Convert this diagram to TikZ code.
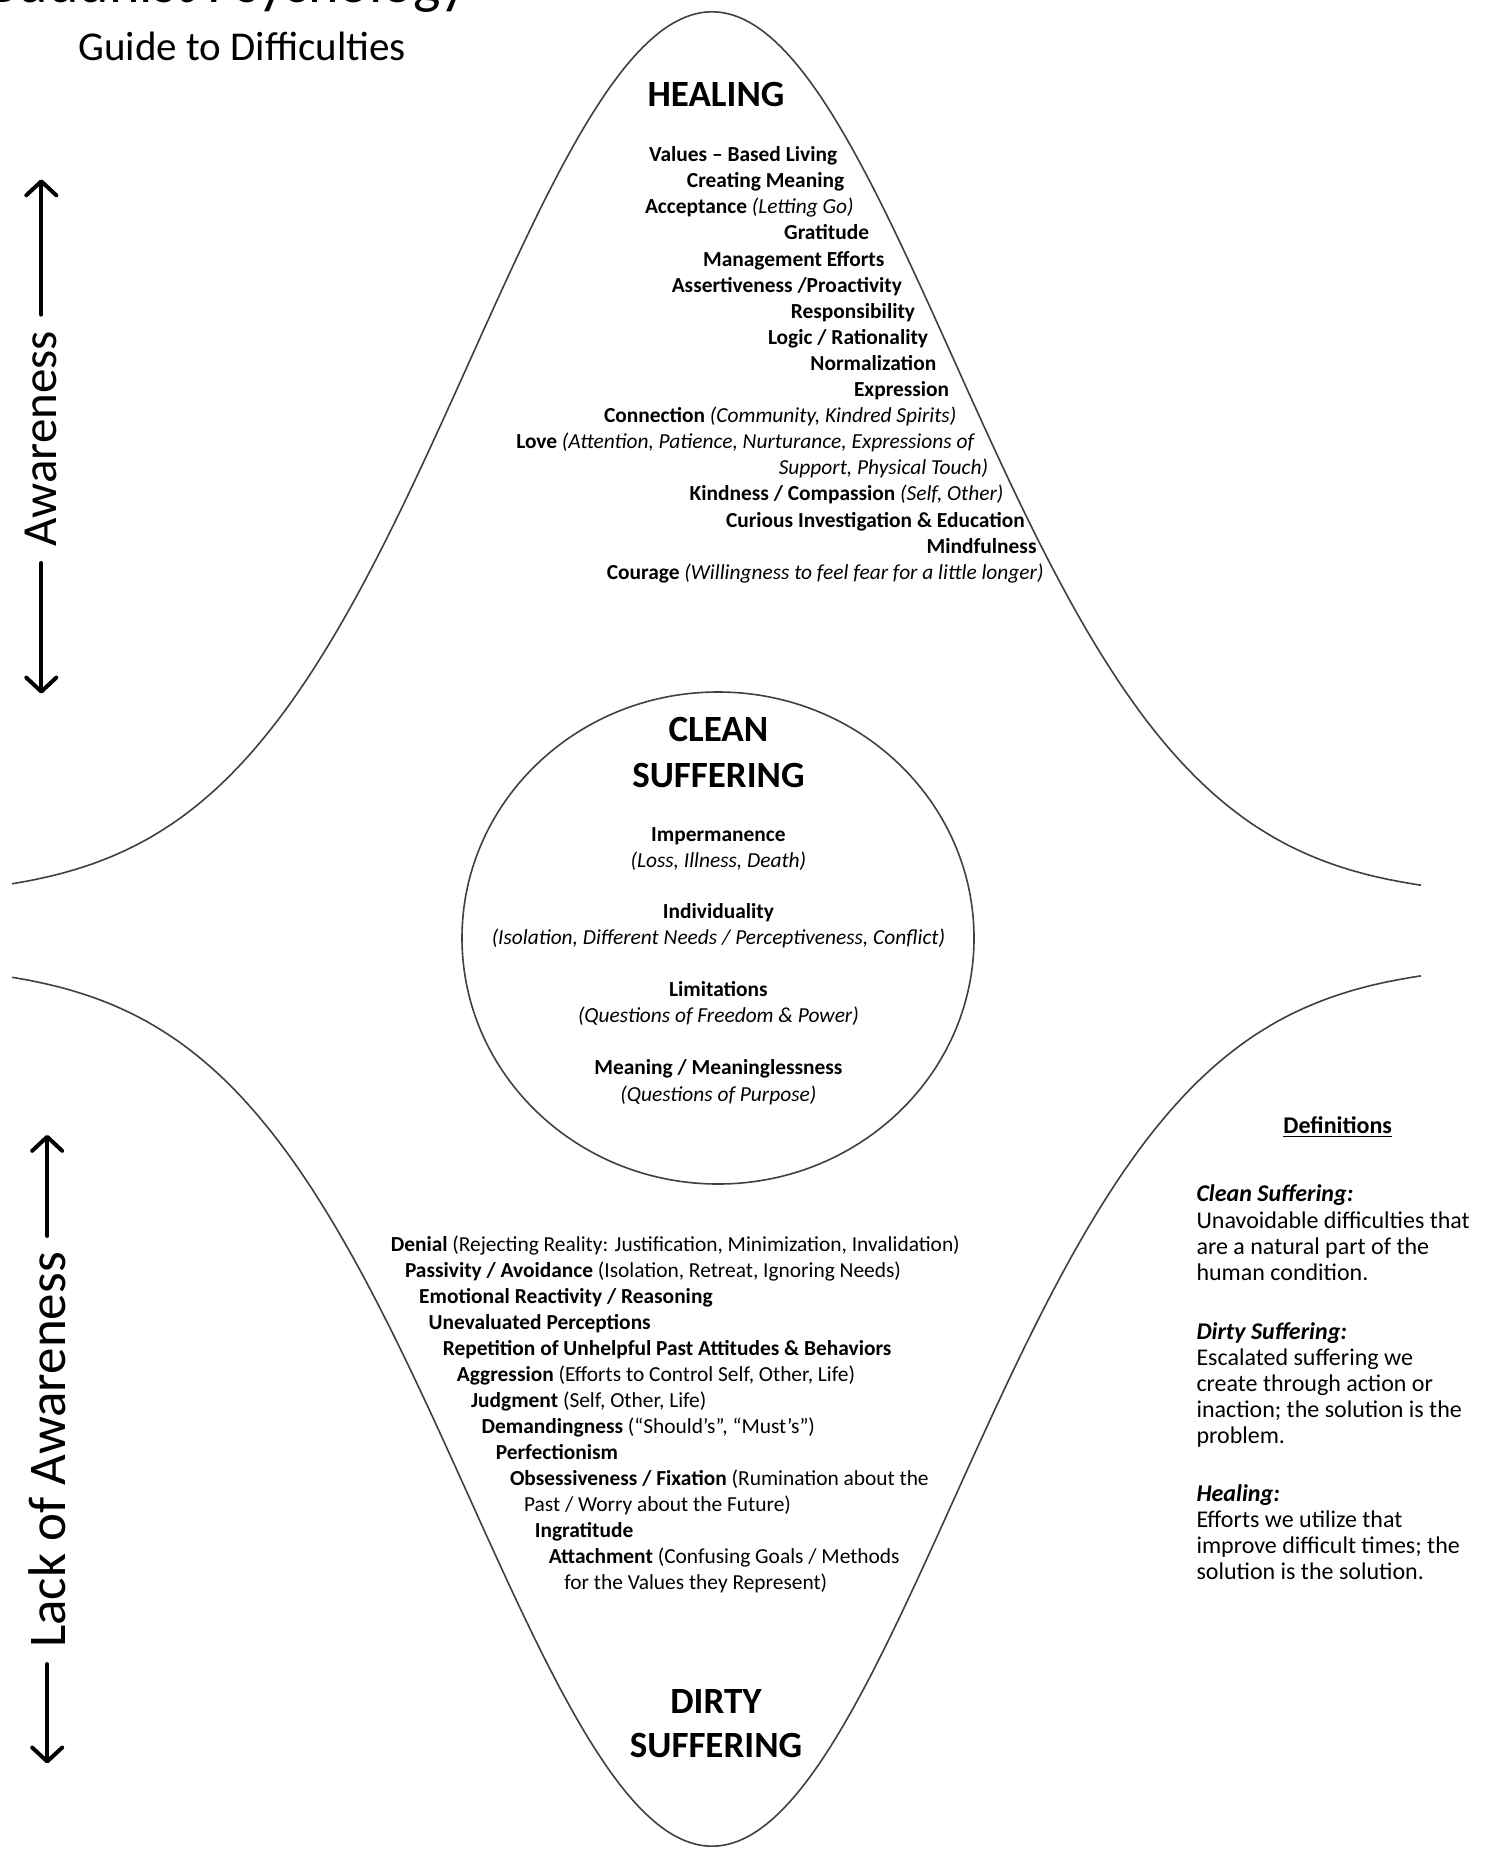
\documentclass[tikz,border=0pt]{standalone}
\usepackage{fontspec}
\setmainfont{Carlito}
\usetikzlibrary{arrows.meta,shapes.geometric}
\begin{document}
\begin{tikzpicture}[x=0.5pt,y=-0.5pt,
  hl/.style={font=\fontsize{10.7}{12.5}\selectfont\bfseries, inner sep=0pt, anchor=mid east},
  dl/.style={font=\fontsize{10.7}{12.5}\selectfont\bfseries, inner sep=0pt, anchor=mid west},
  clb/.style={font=\fontsize{10.7}{12.5}\selectfont\bfseries, inner sep=0pt, anchor=mid},
  cli/.style={font=\fontsize{10.7}{12.5}\selectfont\itshape, inner sep=0pt, anchor=mid},
  head/.style={font=\fontsize{18.5}{22}\selectfont\bfseries, inner sep=0pt, anchor=center},
  defl/.style={font=\fontsize{12}{14}\selectfont, inner sep=0pt, anchor=mid west},
  defh/.style={font=\fontsize{12}{14}\selectfont\bfseries\itshape, inner sep=0pt, anchor=mid west},
  aw/.style={inner xsep=8pt, inner ysep=0pt, rotate=90},
  arr/.style={line width=2pt, line cap=round, -{Straight Barb[length=7pt,width=15pt,round]}},
  curve/.style={draw=black!75, line width=0.8pt}
]
\useasboundingbox (0,0) rectangle (1491,1850);
\fill[white] (0,0) rectangle (1491,1850);

% title (cut off at top)
\node[font=\fontsize{29}{34}\selectfont, inner sep=0pt, anchor=base west] (title) at (-14,3) {Buddhist Psychology};
\node[font=\fontsize{20.5}{24}\selectfont, inner sep=0pt, anchor=base west] (subtitle) at (78,61) {Guide to Difficulties};

% bell curves
\draw[curve] plot[domain=12:1421, samples=240, smooth] (\x, {897.2 - 885.2*exp(-0.5*((\x-712)/242)^2)});
\draw[curve] plot[domain=12:1421, samples=240, smooth] (\x, {963.9 + 882.1*exp(-0.5*((\x-712)/242)^2)});

% circle
\node[draw=black!75, line width=0.8pt, ellipse, minimum width=256pt, minimum height=246pt, inner sep=0pt] (circ) at (718,938) {};

% HEALING
\node[head] (healing) at (716,94.4) {HEALING};
\node[hl] (h1) at (837.5,156.9) {Values -- Based Living};
\node[hl] (h2) at (844.6,183.0) {Creating Meaning};
\node[hl] (h3) at (854.0,209.1) {Acceptance \mdseries\itshape(Letting Go)};
\node[hl] (h4) at (869.4,235.2) {Gratitude};
\node[hl] (h5) at (884.7,261.3) {Management Efforts};
\node[hl] (h6) at (902.4,287.4) {Assertiveness /Proactivity};
\node[hl] (h7) at (915.4,313.5) {Responsibility};
\node[hl] (h8) at (928.4,339.6) {Logic / Rationality};
\node[hl] (h9) at (936.6,365.7) {Normalization};
\node[hl] (h10) at (949.6,391.8) {Expression};
\node[hl] (h11) at (956.7,417.9) {Connection \mdseries\itshape(Community, Kindred Spirits)};
\node[hl] (h12) at (974.4,444.0) {Love \mdseries\itshape(Attention, Patience, Nurturance, Expressions of};
\node[hl] (h13) at (988.5,470.1) {\mdseries\itshape Support, Physical Touch)};
\node[hl] (h14) at (1003.8,496.2) {Kindness / Compassion \mdseries\itshape(Self, Other)};
\node[hl] (h15) at (1025.1,522.3) {Curious Investigation \& Education};
\node[hl] (h16) at (1036.9,548.4) {Mindfulness};
\node[hl] (h17) at (1044.0,574.5) {Courage \mdseries\itshape(Willingness to feel fear for a little longer)};

% CLEAN SUFFERING
\node[head] (clean1) at (718.4,729.0) {CLEAN};
\node[head] (clean2) at (718.4,775.0) {SUFFERING};
\node[clb] (c1) at (718.4,836.3) {Impermanence};
\node[cli] (c2) at (718.4,862.3) {(Loss, Illness, Death)};
\node[clb] (c3) at (718.4,914.2) {Individuality};
\node[cli] (c4) at (718.4,940.1) {(Isolation, Different Needs / Perceptiveness, Conflict)};
\node[clb] (c5) at (718.4,992.0) {Limitations};
\node[cli] (c6) at (718.4,1018.0) {(Questions of Freedom \& Power)};
\node[clb] (c7) at (718.4,1069.9) {Meaning / Meaninglessness};
\node[cli] (c8) at (718.4,1097.0) {(Questions of Purpose)};

% DIRTY list
\node[dl] (d1) at (390.4,1246.8) {Denial \mdseries(Rejecting Reality: Justification, Minimization, Invalidation)};
\node[dl] (d2) at (404.6,1272.8) {Passivity / Avoidance \mdseries(Isolation, Retreat, Ignoring Needs)};
\node[dl] (d3) at (418.8,1298.8) {Emotional Reactivity / Reasoning};
\node[dl] (d4) at (428.2,1324.8) {Unevaluated Perceptions};
\node[dl] (d5) at (442.4,1350.8) {Repetition of Unhelpful Past Attitudes \& Behaviors};
\node[dl] (d6) at (456.5,1376.8) {Aggression \mdseries(Efforts to Control Self, Other, Life)};
\node[dl] (d7) at (470.7,1402.8) {Judgment \mdseries(Self, Other, Life)};
\node[dl] (d8) at (481.3,1428.8) {Demandingness \mdseries(“Should’s”, “Must’s”)};
\node[dl] (d9) at (495.4,1454.8) {Perfectionism};
\node[dl] (d10) at (509.6,1480.8) {Obsessiveness / Fixation \mdseries(Rumination about the};
\node[dl] (d11) at (523.7,1506.8) {\mdseries Past / Worry about the Future)};
\node[dl] (d12) at (534.4,1532.8) {Ingratitude};
\node[dl] (d13) at (548.5,1558.8) {Attachment \mdseries(Confusing Goals / Methods};
\node[dl] (d14) at (563.9,1584.8) {\mdseries for the Values they Represent)};

\node[head] (dirty1) at (716,1701) {DIRTY};
\node[head] (dirty2) at (716,1745.8) {SUFFERING};

% Definitions
\node[font=\fontsize{12}{14}\selectfont\bfseries, inner sep=0pt, anchor=mid] (defs) at (1337.7,1128.5) {\underline{Definitions}};
\node[defh] (e1) at (1196.1,1196.9) {Clean Suffering:};
\node[defl] (e2) at (1196.1,1223.6) {Unavoidable difficulties that};
\node[defl] (e3) at (1196.1,1249.5) {are a natural part of the};
\node[defl] (e4) at (1196.1,1275.5) {human condition.};
\node[defh] (e5) at (1196.1,1334.4) {Dirty Suffering:};
\node[defl] (e6) at (1196.1,1360.4) {Escalated suffering we};
\node[defl] (e7) at (1196.1,1386.4) {create through action or};
\node[defl] (e8) at (1196.1,1412.3) {inaction; the solution is the};
\node[defl] (e9) at (1196.1,1438.3) {problem.};
\node[defh] (e10) at (1196.1,1497.2) {Healing:};
\node[defl] (e11) at (1196.1,1523.2) {Efforts we utilize that};
\node[defl] (e12) at (1196.1,1549.1) {improve difficult times; the};
\node[defl] (e13) at (1196.1,1575.1) {solution is the solution.};

% Awareness arrows
\node[aw, font=\fontsize{24.5}{28}\selectfont] (aw1) at (41.3,438.8) {Awareness};
\coordinate (aw1t) at (41.3,179.3);
\coordinate (aw1b) at (41.3,693.6);
\draw[arr] (aw1.east) -- (aw1t);
\draw[arr] (aw1.west) -- (aw1b);

\node[aw, font=\fontsize{26.5}{31}\selectfont] (aw2) at (47.2,1450) {Lack of Awareness};
\coordinate (aw2t) at (47.2,1134.8);
\coordinate (aw2b) at (47.2,1763.5);
\draw[arr] (aw2.east) -- (aw2t);
\draw[arr] (aw2.west) -- (aw2b);
\end{tikzpicture}
\end{document}
